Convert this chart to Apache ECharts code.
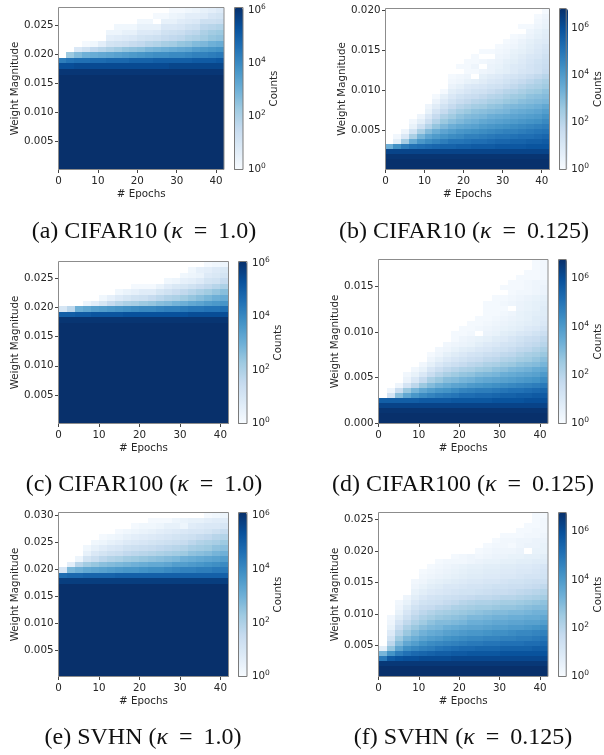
<!DOCTYPE html>
<html><head><meta charset="utf-8">
<style>html,body{margin:0;padding:0;background:#fff}#c{width:604px;height:755px}</style>
<script src="https://cdn.jsdelivr.net/npm/echarts@6/dist/echarts.min.js"></script>
</head><body><div id="c"></div>
<script>
const _ = null;
const BLUES = ['#f7fbff','#deebf7','#c6dbef','#9ecae1','#6baed6','#4292c6','#2171b5','#08519c','#08306b'];
const epochTicks = [0,10,20,30,40];
const cbTicks2 = [0,2,4,6];
// log10(count) per row, top row first; each row is right-aligned to the last epoch bin.
const aRows = [
[.1,.1,.2,.3,.5,.6,.8],
[.1,.1,.3,.4,.6,.6,.7,1,1.1],
[.2,.2,_,.5,.5,.7,.8,.9,1.3,1.3,1.4],
[.2,.2,.2,.5,.5,.5,.9,.9,1,1.2,1.3,1.7,1.8,1.9],
[.3,.3,.5,.5,.8,.8,.9,1.2,1.3,1.4,1.6,1.7,2,2.2,2.3],
[.6,.7,.8,.9,1.1,1.2,1.3,1.5,1.6,1.7,1.9,2,2.2,2.4,2.5],
[.1,.2,.6,1.1,1.2,1.3,1.5,1.6,1.8,1.9,2.1,2.2,2.4,2.5,2.7,2.8,3,3.1],
[.9,1.2,1.6,1.8,2,2.2,2.4,2.5,2.6,2.8,2.9,3,3.1,3.2,3.3,3.5,3.6,3.7,3.8],
[2.3,2.7,3,3.1,3.2,3.3,3.4,3.5,3.6,3.7,3.8,3.9,3.9,4,4,4.1,4.2,4.2,4.3,4.4],
[4.3,4.5,4.6,4.6,4.7,4.7,4.8,4.8,4.8,4.9,4.9,4.9,5,5,5,5,5,5.1,5.1,5.1,5.2],
[5.4,5.4,5.5,5.5,5.5,5.5,5.5,5.5,5.5,5.5,5.5,5.5,5.5,5.5,5.6,5.6,5.6,5.6,5.6,5.6,5.6]];
const aDeep = [5.95,6.2,6.2,6.2,6.2,6.2,6.2,6.2,6.2,6.2,6.2,6.2,6.2,6.2,6.2,6.2,6.2,6.2];
const bRows = [
[.1],[.1,.3],[.2,.4],[.1,.1,.3,.5],[_,.3,.5,.7],
[.1,.2,.4,.6,.8],
[.1,.2,.4,.6,.8,.9],
[.1,.2,.3,.5,.7,.9,1.1],
[.1,.1,.2,.3,.5,.6,.8,1,1.2],
[.1,_,_,.3,.4,.6,.8,1,1.1,1.4],
[.1,.1,.2,.3,.4,.6,.7,.9,1.1,1.3,1.5],
[.1,.1,.3,_,.4,.5,.7,.9,1,1.2,1.4,1.6],
[.1,.1,.3,.4,.6,.7,.9,1.1,1.2,1.4,1.7],
[.1,.2,.3,_,.6,.8,.9,1.1,1.2,1.4,1.6,1.8,2],
[.2,.3,.5,.6,.8,1,1.1,1.3,1.5,1.7,1.9,2.1,2.3],
[.4,.6,.9,1,1.1,1.3,1.4,1.6,1.8,2,2.2,2.3,2.5],
[.1,.7,.9,1.1,1.3,1.4,1.6,1.8,2,2.1,2.3,2.5,2.6,2.8],
[.1,.6,1,1.3,1.5,1.6,1.8,2,2.1,2.3,2.5,2.6,2.8,2.9,3],
[.4,.9,1.3,1.6,1.8,2,2.1,2.3,2.4,2.6,2.7,2.9,3,3.1,3.2],
[.3,.8,1.3,1.7,2,2.2,2.4,2.5,2.7,2.8,3,3.1,3.2,3.3,3.4,3.6],
[.5,1.2,1.7,2.1,2.4,2.6,2.8,2.9,3,3.1,3.2,3.4,3.5,3.6,3.7,3.9],
[.3,1,1.7,2.2,2.5,2.8,3,3.1,3.2,3.4,3.5,3.6,3.7,3.8,3.9,4,4.2],
[.2,.7,1.5,2.1,2.6,2.9,3.1,3.3,3.4,3.6,3.7,3.8,3.9,4,4.1,4.2,4.3,4.5],
[.5,1.4,2.1,2.7,3.1,3.4,3.6,3.7,3.8,4,4.1,4.2,4.3,4.4,4.5,4.6,4.7,4.8],
[.3,1.3,2.3,3,3.4,3.7,3.9,4.1,4.2,4.3,4.4,4.5,4.6,4.7,4.7,4.8,4.9,5,5.1],
[.2,1,2.3,3.2,3.7,4,4.2,4.4,4.5,4.7,4.7,4.8,4.9,5,5,5.1,5.2,5.2,5.3,5.4],
[.7,2.4,3.5,4.1,4.4,4.6,4.8,5,5,5.1,5.2,5.2,5.3,5.4,5.4,5.5,5.5,5.6,5.6,5.7],
[3.4,4.3,4.8,5.1,5.2,5.3,5.4,5.5,5.5,5.6,5.6,5.7,5.7,5.7,5.8,5.8,5.8,5.8,5.9,5.9,5.9]];
const bDeep = [6.3,6.7,6.8,6.8];
const cRows = [
[.1,.2,.3],
[.2,.5,.6,.8,.9],
[.2,.3,.4,.8,.9,1.1],
[.2,.3,.5,.6,.8,1.1,1.2,1.5],
[.1,.1,.1,.4,.7,.9,1,1.2,1.4,1.6,1.8,2],
[.2,.4,.5,.7,.7,1,1.2,1.4,1.6,1.8,2,2.2,2.4,2.6],
[.2,.5,.8,1,1.2,1.3,1.5,1.7,1.9,2,2.2,2.4,2.6,2.8,3,3.1],
[.3,.6,1,1.5,1.8,2,2.1,2.3,2.4,2.6,2.7,2.9,3,3.2,3.3,3.5,3.6,3.7],
[1,1.7,3,3.2,3.4,3.5,3.6,3.7,3.8,3.9,4,4,4.1,4.2,4.2,4.3,4.4,4.4,4.5,4.5,4.6],
[5,5,5.1,5.1,5.2,5.2,5.2,5.2,5.3,5.3,5.3,5.3,5.3,5.3,5.3,5.3,5.4,5.4,5.4,5.4,5.4]];
const cDeep = [5.95,6.2,6.2,6.2,6.2,6.2,6.2,6.2,6.2,6.2,6.2,6.2,6.2,6.2,6.2,6.2,6.2,6.2,6.2];
const dRows = [
[.1,.2],[.1,.2],[.1,.1,.2],[.1,.1,.1,.2],
[.1,.1,.2,.3,.3],
[.1,.1,.1,.2,.3,.4],
[.1,.2,.2,.3,.4],
[.1,.1,.2,.3,.4,.5,.6],
[.1,.1,.2,.3,.4,.5,.6,.7],
[.1,.1,.1,_,.4,.5,.6,.8],
[.1,.1,.2,.3,.5,.6,.7,.8],
[.1,.1,.2,.3,.4,.5,.6,.8,.9],
[.1,.1,.2,.3,.4,.5,.6,.7,.8,1],
[.1,.1,.2,.3,.4,.5,.6,.7,.9,1,1.2],
[.1,.1,.2,_,.4,.5,.7,.8,1,1.1,1.3,1.5],
[.1,.3,.4,.5,.6,.8,.9,1.1,1.3,1.5,1.6,1.8],
[.2,.3,.4,.5,.7,.9,1,1.2,1.3,1.5,1.7,1.8,2],
[.2,.3,.5,.7,.8,1,1.1,1.3,1.4,1.6,1.8,1.9,2.1,2.3],
[.1,.3,.6,.8,1,1.2,1.3,1.5,1.6,1.8,1.9,2.1,2.3,2.4,2.6],
[.3,.6,.9,1.1,1.3,1.5,1.6,1.8,1.9,2.1,2.2,2.4,2.5,2.7,2.9],
[.2,.6,1,1.3,1.5,1.7,1.9,2,2.2,2.3,2.5,2.6,2.8,2.9,3,3.2],
[.2,.5,1.1,1.5,1.8,2,2.2,2.3,2.5,2.6,2.8,2.9,3.1,3.2,3.3,3.5,3.6],
[.2,.5,1,1.6,2,2.3,2.5,2.7,2.8,3,3.1,3.2,3.4,3.5,3.6,3.7,3.8,4],
[.4,1,1.7,2.3,2.6,2.9,3,3.2,3.3,3.5,3.6,3.7,3.8,3.9,4,4.1,4.2,4.4],
[.3,1.2,1.9,2.6,3,3.3,3.5,3.7,3.8,4,4.1,4.2,4.3,4.4,4.5,4.6,4.7,4.8,4.9],
[.3,1.6,2.6,3.2,3.6,3.9,4.1,4.2,4.4,4.6,4.7,4.8,4.8,4.9,5,5.1,5.1,5.2,5.3,5.4],
[1.2,2.9,3.6,4.1,4.4,4.6,4.8,4.9,5,5.2,5.2,5.3,5.3,5.4,5.5,5.5,5.6,5.6,5.7,5.7],
[5.6,5.6,5.6,5.6,5.6,5.7,5.7,5.7,5.7,5.8,5.8,5.8,5.8,5.8,5.9,5.9,5.9,5.9,6,6,6]];
const dDeep = [6.3,6.7,6.8,6.8];
const eRows = [
[.1,.2,.3],
[.1,.1,.1,.3,.4,.5,.5,.6,.7,.7],
[.1,.2,.2,.3,.5,.5,.3,.7,.8,.9,.9,1],
[.1,.2,.3,.4,.5,.6,.7,.8,.9,1,1,1.1,1.3,1.5],
[.1,.2,.3,.5,.6,.7,.8,.9,1,1.1,1.2,1.3,1.5,1.6,1.8,1.9],
[.2,.3,.5,.6,.8,.9,1,1.1,1.2,1.3,1.4,1.5,1.7,1.9,2,2.1,2.3],
[.2,.5,.7,.9,1,1.2,1.3,1.4,1.5,1.6,1.7,1.8,1.9,2.1,2.2,2.3,2.5,2.6],
[.5,.9,1.1,1.3,1.4,1.6,1.7,1.8,1.9,2,2.1,2.2,2.3,2.5,2.6,2.7,2.9,3],
[.3,1.1,1.4,1.7,1.9,2,2.2,2.3,2.4,2.5,2.6,2.7,2.8,3,3.1,3.2,3.3,3.4,3.5],
[.6,1.8,2.2,2.4,2.6,2.7,2.8,2.9,3,3.1,3.2,3.2,3.3,3.5,3.5,3.6,3.7,3.8,3.9,4],
[1,2.8,3,3.2,3.3,3.4,3.5,3.6,3.7,3.7,3.8,3.9,3.9,4,4.1,4.2,4.2,4.3,4.3,4.4,4.4],
[4.7,4.8,4.8,4.9,4.9,4.9,4.9,5,5,5,5,5,5,5,5,5,5,5,5,5,5]];
const eDeep = [5.8,6.2,6.2,6.2,6.2,6.2,6.2,6.2,6.2,6.2,6.2,6.2,6.2,6.2,6.2,6.2,6.2,6.2];
const fRows = [
[.1,.1],[.1,.2],[.1,.1,.2],[.1,.1,.2,.2],
[.1,.1,.1,.2,.2,.3],
[.1,.2,.2,.3,.3,.4,.4],
[.1,.2,.2,.1,.3,.4,.4,.5],
[.1,.2,.3,.3,.3,.4,_,.5,.5],
[.1,.2,.3,.2,.3,.4,.4,.5,.5,.6,.6,.7],
[.1,.2,.2,.2,.3,.4,.5,.5,.6,.6,.7,.7,.8,.8],
[.1,.2,.3,.4,.5,.6,.6,.7,.7,.8,.8,.9,.9,1,1.1],
[.1,.2,.3,.4,.5,.6,.7,.7,.8,.8,.9,.9,1,1,1.1,1.2],
[.2,.3,.4,.5,.6,.7,.8,.8,.9,.9,1,1,1.1,1.2,1.2,1.3],
[.2,.3,.5,.6,.7,.8,.9,1,1,1.1,1.1,1.2,1.3,1.3,1.4,1.5,1.5],
[.3,.5,.7,.8,1,1,1.1,1.2,1.2,1.3,1.4,1.4,1.5,1.5,1.6,1.7,1.8],
[.5,.7,.9,1,1.1,1.2,1.3,1.3,1.4,1.5,1.6,1.6,1.7,1.8,1.9,2,2.1],
[.3,.7,1,1.2,1.3,1.4,1.5,1.6,1.7,1.8,1.8,1.9,2,2,2.1,2.2,2.3,2.4],
[.2,.5,1,1.3,1.4,1.5,1.7,1.8,2,2.1,2.2,2.2,2.3,2.4,2.4,2.5,2.6,2.7,2.8],
[.3,.8,1.3,1.6,1.7,1.9,2,2.2,2.3,2.4,2.5,2.5,2.6,2.7,2.7,2.8,2.9,3,3],
[.5,1.1,1.6,1.9,2.1,2.3,2.4,2.5,2.6,2.7,2.8,2.9,3,3,3.1,3.1,3.2,3.3,3.3],
[.2,.8,1.4,1.9,2.2,2.4,2.6,2.7,2.8,2.9,3.1,3.1,3.2,3.3,3.3,3.4,3.4,3.5,3.5,3.6],
[.3,1.2,1.8,2.2,2.5,2.8,3,3,3.1,3.2,3.4,3.4,3.5,3.6,3.6,3.7,3.7,3.8,3.8,3.9],
[.5,1.6,2.2,2.6,2.9,3.1,3.2,3.4,3.5,3.6,3.7,3.7,3.8,3.9,3.9,4,4,4.1,4.2,4.3],
[.9,2,2.6,3,3.3,3.5,3.6,3.8,3.9,4,4.1,4.1,4.2,4.3,4.3,4.4,4.5,4.5,4.6,4.7],
[1.3,2.5,3.1,3.4,3.7,3.9,4,4.2,4.3,4.4,4.5,4.5,4.6,4.6,4.7,4.7,4.8,4.8,4.9,5],
[1.9,3,3.6,3.9,4.2,4.4,4.5,4.6,4.7,4.8,4.9,4.9,5,5,5.1,5.1,5.1,5.2,5.2,5.3],
[.7,2.7,3.7,4.3,4.5,4.7,4.8,5,5.1,5.2,5.3,5.3,5.4,5.4,5.4,5.5,5.5,5.5,5.5,5.6,5.6],
[3.2,4.2,4.8,5.1,5.3,5.4,5.5,5.6,5.6,5.7,5.7,5.8,5.8,5.8,5.8,5.9,5.9,5.9,5.9,5.9,5.9],
[4.9,5.7,5.9,6,6,6.1,6.1,6.1,6.1,6.2,6.2,6.2,6.2,6.2,6.2,6.2,6.2,6.2,6.2,6.2,6.2]];
const fDeep = [6.6,6.8,6.8];
const captions = [['(a) CIFAR10','1.0'],['(b) CIFAR10','0.125'],['(c) CIFAR100','1.0'],['(d) CIFAR100','0.125'],['(e) SVHN','1.0'],['(f) SVHN','0.125']];
const aYTicks=[.005,.01,.015,.02,.025], bYTicks=[.005,.01,.015,.02], cYTicks=[.005,.01,.015,.02,.025],
      dYTicks=[0,.005,.01,.015], eYTicks=[.005,.01,.015,.02,.025,.03], fYTicks=[.005,.01,.015,.02,.025];

const panels = [
 {rows:aRows,deep:aDeep,yMin:.0001,yMax:.0281,yTicks:aYTicks,cMax:6.1,box:[58.5,7.5,165.5,162],cb:[234.5,8.5],capX:144,capY:220},
 {rows:bRows,deep:bDeep,yMin:.00007,yMax:.0202,yTicks:bYTicks,cMax:6.82,box:[385.5,8.5,164,161],cb:[559.5,8.5],capX:464,capY:220},
 {rows:cRows,deep:cDeep,yMin:.0001,yMax:.0279,yTicks:cYTicks,cMax:6.06,box:[58.5,261.5,170,162],cb:[238.5,8.5],capX:144,capY:473},
 {rows:dRows,deep:dDeep,yMin:0,yMax:.0179,yTicks:dYTicks,cMax:6.8,box:[378.5,259.5,169.5,164],cb:[558.5,8.5],capX:463,capY:473},
 {rows:eRows,deep:eDeep,yMin:.0001,yMax:.0306,yTicks:eYTicks,cMax:6.12,box:[58.5,512.5,170,164],cb:[238.5,8.5],capX:143,capY:726},
 {rows:fRows,deep:fDeep,yMin:.0001,yMax:.0261,yTicks:fYTicks,cMax:6.8,box:[378.5,512.5,169.5,164],cb:[558.5,8.5],capX:463,capY:726}
];
const FONT='"DejaVu Sans"', TXT='#262626', EDGE='#8c8c8c', CBEDGE='#7a7a7a', NCOLS=21, BIN=2;
const opt={animation:false,backgroundColor:'#fff',title:[],grid:[],xAxis:[],yAxis:[],visualMap:[],series:[]};
const txt={fontFamily:FONT,fontSize:10.3,color:TXT};
panels.forEach((p,i)=>{
  const [l,t,w,h]=p.box, nr=p.rows.length+p.deep.length, rh=(p.yMax-p.yMin)/nr, cells=[];
  p.rows.forEach((row,r)=>row.forEach((v,k)=>{ if(v===null) return;
    const col=NCOLS-row.length+k, top=p.yMax-r*rh;
    cells.push([col*BIN,(col+1)*BIN,top-rh,top,v]);}));
  p.deep.forEach((v,d)=>{ const r=p.rows.length+d, top=p.yMax-r*rh;
    for(let col=0;col<NCOLS;col++) cells.push([col*BIN,(col+1)*BIN,top-rh,top,v]);});
  const g=i*2;
  opt.grid.push({left:l,top:t,width:w,height:h,show:true,z:5,backgroundColor:'transparent',borderColor:EDGE,borderWidth:1});
  opt.xAxis.push({type:'value',gridIndex:g,min:0,max:42,splitLine:{show:false},axisLine:{show:false},
    axisTick:{length:3.5,lineStyle:{color:'#444',width:1},customValues:epochTicks},
    axisLabel:{...txt,margin:7,customValues:epochTicks},
    name:'# Epochs',nameLocation:'middle',nameGap:19.5,nameTextStyle:txt});
  opt.yAxis.push({type:'value',gridIndex:g,min:p.yMin,max:p.yMax,splitLine:{show:false},axisLine:{show:false},
    axisTick:{length:3.5,lineStyle:{color:'#444',width:1},customValues:p.yTicks},
    axisLabel:{...txt,margin:5,customValues:p.yTicks,formatter:v=>v.toFixed(3)},
    name:'Weight Magnitude',nameLocation:'middle',nameGap:38.5,nameRotate:90,nameTextStyle:txt});
  opt.series.push({type:'custom',xAxisIndex:g,yAxisIndex:g,clip:true,
    encode:{x:[0,1],y:[2,3]},dimensions:['x0','x1','y0','y1','log10count'],data:cells,
    renderItem:(params,api)=>{
      const a=api.coord([api.value(0),api.value(3)]), b=api.coord([api.value(1),api.value(2)]);
      const x=Math.round(a[0]),y=Math.round(a[1]);
      return {type:'rect',shape:{x,y,width:Math.round(b[0])-x,height:Math.round(b[1])-y},style:{fill:api.visual('color')}};
    }});
  opt.visualMap.push({type:'continuous',seriesIndex:opt.series.length-1,dimension:4,min:0,max:p.cMax,
    inRange:{color:BLUES},left:p.cb[0],top:t,itemWidth:p.cb[1],itemHeight:h,padding:0,text:null,
    calculable:false,hoverLink:false,realtime:false,z:4});
  opt.grid.push({left:p.cb[0],top:t,width:p.cb[1],height:h,show:true,z:5,backgroundColor:'transparent',borderColor:CBEDGE,borderWidth:1});
  opt.xAxis.push({type:'value',gridIndex:g+1,show:false,min:0,max:1});
  opt.yAxis.push({type:'value',gridIndex:g+1,position:'right',min:0,max:p.cMax,splitLine:{show:false},axisLine:{show:false},
    axisTick:{length:3.5,lineStyle:{color:'#444',width:1},customValues:cbTicks2},
    axisLabel:{...txt,margin:5,customValues:cbTicks2,formatter:v=>'{b|10}{s|'+v+'}',
      rich:{b:{...txt},s:{...txt,fontSize:7.5,padding:[0,0,6,0]}}},
    name:'Counts',nameLocation:'middle',nameGap:26.5,nameRotate:90,nameTextStyle:txt});
  opt.title.push({text:captions[i][0]+' ({k|κ}{e|=}'+captions[i][1]+')',left:p.capX,top:p.capY,textAlign:'center',padding:0,
    textStyle:{fontFamily:'"Liberation Serif"',fontSize:24,fontWeight:'normal',color:'#111',
      rich:{k:{fontFamily:'"Liberation Serif"',fontSize:24,fontStyle:'italic',color:'#111'},
            e:{fontFamily:'"Liberation Serif"',fontSize:24,color:'#111',padding:[0,11,0,11]}}}});
});
const chart=echarts.init(document.getElementById('c'),null,{renderer:'canvas',width:604,height:755});
chart.setOption(opt);
</script></body></html>
